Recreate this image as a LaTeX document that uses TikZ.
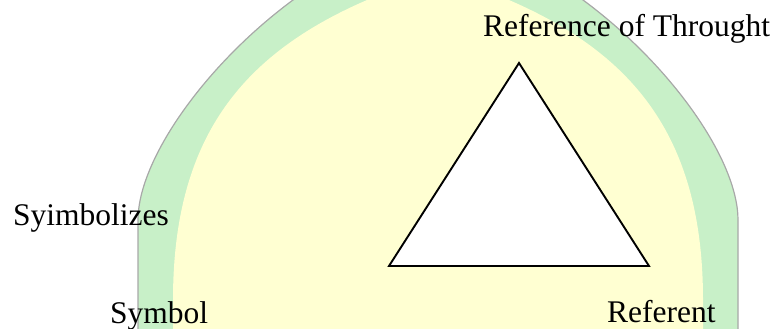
\documentclass[tikz,border=0pt]{standalone}
\usepackage{fontspec}
\setmainfont{Liberation Serif}
\usetikzlibrary{positioning}
\definecolor{archgreen}{HTML}{C8F0C8}
\definecolor{archyellow}{HTML}{FFFFD2}
\definecolor{archedge}{HTML}{A8A8A8}

\begin{document}
\begin{tikzpicture}[x=1pt, y=-1pt, font=\fontsize{31.5}{36}\selectfont,
    txt/.style={anchor=base west, inner sep=0pt},
    side/.style={line width=1.9pt, line join=miter}]
  \useasboundingbox (0,0) rectangle (779,329);

  % watermark arch behind the figure
  \begin{scope}
    \clip (0,0) rectangle (779,329);
    \path[fill=archgreen, draw=archedge, line width=1.2pt]
      (138,345) -- (138,220) .. controls (138,160) and (205,65) .. (293,0)
      .. controls (350,-42) and (400,-60) .. (438,-60)
      .. controls (476,-60) and (526,-42) .. (583,0)
      .. controls (671,65) and (738,160) .. (738,220) -- (738,345) -- cycle;
    \fill[archyellow]
      (173,345) -- (173,300) .. controls (173,140) and (240,55) .. (367,0)
      .. controls (400,-23) and (420,-30) .. (438,-30)
      .. controls (456,-30) and (476,-23) .. (509,0)
      .. controls (636,55) and (703,140) .. (703,300) -- (703,345) -- cycle;
  \end{scope}

  % triangle of meaning
  \coordinate (apex) at (519,63);
  \coordinate (symb) at (389,266);
  \coordinate (refr) at (649,266);
  \filldraw[fill=white, side] (apex) -- (symb) -- (refr) -- cycle;

  % labels
  \node[txt] (thought)    at (483,37)  {Reference of Throught};
  \node[txt] (symbolizes) at (13,225)  {Syimbolizes};
  \node[txt] (symbol)     at (110,323) {Symbol};
  \node[txt] (referent)   at (607,322) {Referent};
\end{tikzpicture}
\end{document}
